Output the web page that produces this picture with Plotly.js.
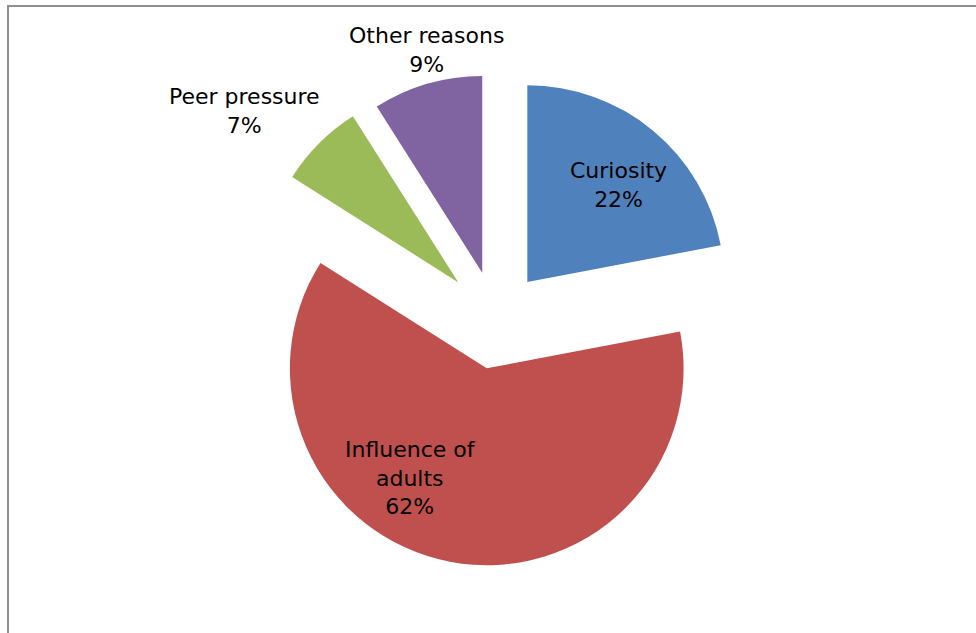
<!DOCTYPE html>
<html>
<head>
<meta charset="utf-8">
<script src="https://cdn.plot.ly/plotly-3.0.1.min.js"></script>
<style>
  html, body { margin: 0; padding: 0; background: #fff; overflow: hidden; }
  #wrap { position: relative; width: 976px; height: 633px; }
  #chart { position: absolute; left: 0; top: 0; width: 976px; height: 633px; }
  #frame { position: absolute; left: 7px; top: 5px; width: 1000px; height: 700px;
           border-left: 2px solid #8f8f8f; border-top: 2px solid #8f8f8f; pointer-events: none; }
</style>
</head>
<body>
<div id="wrap">
  <div id="chart"></div>
  <div id="frame"></div>
</div>
<script>
// Data
var categories = ['Curiosity', 'Influence of adults', 'Peer pressure', 'Other reasons'];
var displayLabels = ['Curiosity', 'Influence of<br>adults', 'Peer pressure', 'Other reasons'];
var percents = [22, 62, 7, 9];
var colors = ['#4F81BD', '#C0504D', '#9BBB59', '#8064A2'];
var pulls = [0.25, 0.25, 0.27, 0.25];

var fontFamily = 'DejaVu Sans, Liberation Sans, Arial, sans-serif';

var trace = {
  type: 'pie',
  labels: categories,
  values: percents,
  textinfo: 'none',
  sort: false,
  direction: 'clockwise',
  rotation: 0,
  pull: pulls,
  marker: { colors: colors, line: { width: 0 } },
  hoverinfo: 'none',
  showlegend: false,
  domain: { x: [0.2520, 0.7643], y: [0.0995, 0.8894] }
};

// label positions (paper fractions), as placed in the reference
var labelPos = [[0.6332, 0.7077], [0.4201, 0.2449], [0.251, 0.8246], [0.4365, 0.921]];
var annotations = [];
for (var i = 0; i < categories.length; i++) {
  annotations.push({
    xref: 'paper', yref: 'paper', x: labelPos[i][0], y: labelPos[i][1],
    xanchor: 'center', yanchor: 'middle', showarrow: false,
    text: displayLabels[i] + '<br>' + percents[i] + '%',
    font: { family: fontFamily, size: 22, color: '#000' }
  });
}

var layout = {
  width: 976, height: 633,
  margin: { l: 0, r: 0, t: 0, b: 0 },
  paper_bgcolor: '#ffffff',
  plot_bgcolor: '#ffffff',
  annotations: annotations,
  showlegend: false
};

Plotly.newPlot('chart', [trace], layout, { staticPlot: true, displayModeBar: false });
</script>
</body>
</html>
